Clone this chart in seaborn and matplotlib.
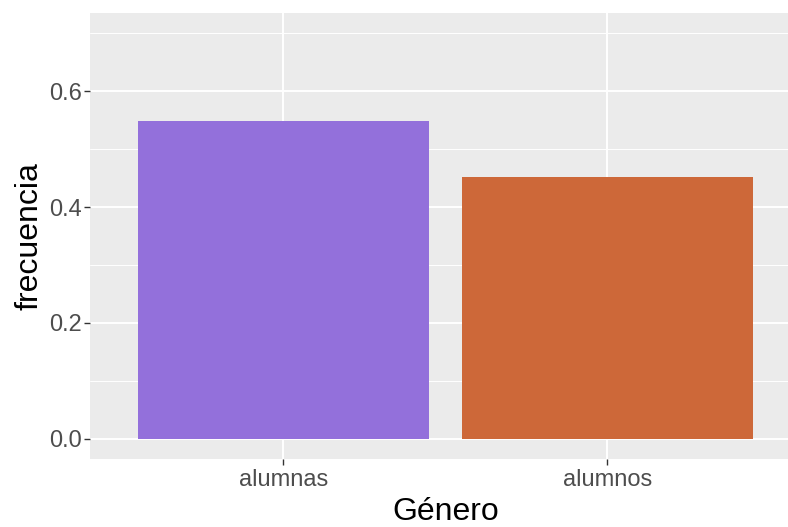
import matplotlib
matplotlib.use("Agg")
import matplotlib.pyplot as plt
import seaborn as sns
import pandas as pd
from matplotlib.ticker import MultipleLocator

generos = ['alumnas', 'alumnos']
frecuencias = [0.548, 0.452]
colores = ['#9370DB', '#CD6839']

sns.set_theme(style="darkgrid", rc={
    'axes.facecolor': '#EBEBEB',
    'grid.color': 'white',
    'axes.edgecolor': '#EBEBEB',
})
plt.rcParams['font.family'] = ['Liberation Sans', 'DejaVu Sans']

data = pd.DataFrame({'Genero': generos, 'frecuencia': frecuencias})

fig = plt.figure(figsize=(7.88, 5.27), dpi=100)
ax = fig.add_axes([90 / 788, (527 - 459) / 527, 698 / 788, 446 / 527])

sns.barplot(data=data, x='Genero', y='frecuencia', hue='Genero',
            palette=colores, width=0.9, legend=False, ax=ax, zorder=3,
            saturation=1, linewidth=0)

ax.set_xlim(-0.597, 1.558)
ax.set_ylim(-0.035, 0.735)
ax.set_yticks([0.0, 0.2, 0.4, 0.6])
ax.set_yticklabels(['0.0', '0.2', '0.4', '0.6'])
ax.yaxis.set_minor_locator(MultipleLocator(0.1))
ax.grid(which='major', color='white', linewidth=1.4, zorder=0)
ax.grid(which='minor', axis='y', color='white', linewidth=0.7, zorder=0)
ax.set_axisbelow(True)

for s in ax.spines.values():
    s.set_visible(False)

ax.tick_params(axis='both', which='major', length=4, width=1, color='#333333',
               labelcolor='#4D4D4D', labelsize=17, left=True, bottom=True)
ax.tick_params(axis='y', pad=1.5)
ax.tick_params(axis='x', pad=3)
ax.tick_params(axis='y', which='minor', length=0)

ax.set_xlabel('Género', fontsize=23, color='black')
ax.set_ylabel('frecuencia', fontsize=23, color='black')
ax.xaxis.set_label_coords((446 - 90) / 698, (459 - 497) / 446)
ax.yaxis.set_label_coords((44 - 90) / 698, 0.5)

fig.savefig('out.png', dpi=100)
